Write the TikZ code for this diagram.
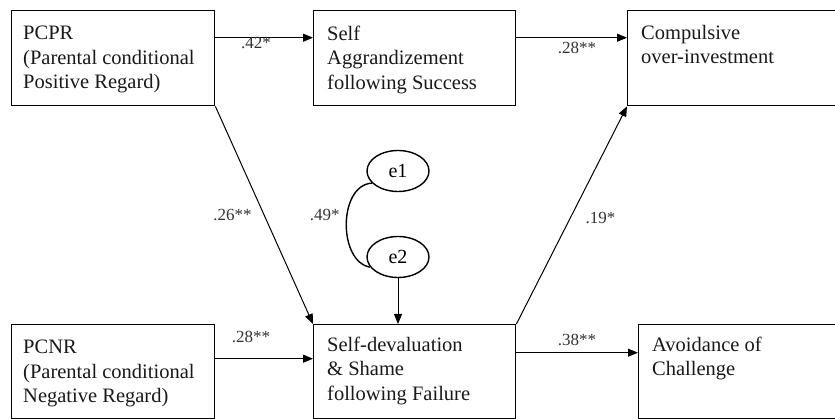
\documentclass[tikz,border=0pt]{standalone}
\usepackage{fontspec}
\setmainfont{Liberation Serif}
\usetikzlibrary{shapes.geometric,arrows.meta}
\begin{document}
\begin{tikzpicture}[x=1pt,y=-1pt,
  box/.style={draw, line width=1.4pt, rectangle, anchor=north west, inner sep=0pt},
  txt/.style={anchor=north west, inner sep=0pt, align=left, font=\fontsize{20.5}{24.3}\selectfont, text=black!90},
  lab/.style={font=\fontsize{17}{20}\selectfont, text=black!80, inner sep=0pt, anchor=center},
  arr/.style={line width=1pt, -{Triangle[length=10pt,width=8pt]}},
  errv/.style={draw, ellipse, line width=1.4pt, minimum width=62pt, minimum height=41pt, inner sep=0pt, font=\fontsize{20}{22}\selectfont}]
\useasboundingbox (0,0) rectangle (835,419);
\clip (0,0) rectangle (835,419);

% boxes
\node[box, minimum width=203pt, minimum height=95pt] (pcpr) at (11,10) {};
\node[box, minimum width=202pt, minimum height=95pt] (sas) at (313,10) {};
\node[box, minimum width=215pt, minimum height=95pt] (comp) at (627,10) {};
\node[box, minimum width=203pt, minimum height=94pt] (pcnr) at (11,324) {};
\node[box, minimum width=202pt, minimum height=94pt] (sdf) at (313,324) {};
\node[box, minimum width=210pt, minimum height=94pt] (avoid) at (638,324) {};

% box texts
\node[txt] (pcprt) at ([xshift=12pt,yshift=-16pt]pcpr.north west) {PCPR\\(Parental conditional\\Positive Regard)};
\node[txt] (sast) at ([xshift=14pt,yshift=-16pt]sas.north west) {Self\\Aggrandizement\\following Success};
\node[txt] (compt) at ([xshift=14pt,yshift=-15pt]comp.north west) {Compulsive\\over-investment};
\node[txt] (pcnrt) at ([xshift=12pt,yshift=-16pt]pcnr.north west) {PCNR\\(Parental conditional\\Negative Regard)};
\node[txt] (sdft) at ([xshift=14pt,yshift=-13pt]sdf.north west) {Self-devaluation\\\& Shame\\following Failure};
\node[txt] (avoidt) at ([xshift=14pt,yshift=-13pt]avoid.north west) {Avoidance of\\Challenge};

% error terms
\node[errv] (e1) at (398,171) {e1};
\node[errv] (e2) at (398,257) {e2};

% connectors
\draw[arr] ([yshift=20.5pt]pcpr.east) -- ([yshift=20.5pt]sas.west);
\draw[arr] ([yshift=20.5pt]sas.east) -- ([yshift=20.5pt]comp.west);
\draw[arr] ([yshift=13pt]pcnr.east) -- ([yshift=13pt]sdf.west);
\draw[arr] ([yshift=19pt]sdf.east) -- ([yshift=19pt]avoid.west);
\draw[arr] (pcpr.south east) -- (sdf.north west);
\draw[arr] (sdf.north east) -- (comp.south west);
\draw[arr] (e2.south) -- (e2.south |- sdf.north);
\draw[line width=1.4pt] (e1.205) .. controls (338,185) and (338,262) .. (e2.200);

% labels
\node[lab] (l1) at (256,42.5) {.42*};
\node[lab] (l2) at (577,48) {.28**};
\node[lab] (l3) at (251,337) {.28**};
\node[lab] (l4) at (577,340) {.38**};
\node[lab] (l5) at (232.5,215) {.26**};
\node[lab] (l6) at (324.7,215) {.49*};
\node[lab] (l7) at (600.5,217.5) {.19*};
\end{tikzpicture}
\end{document}
